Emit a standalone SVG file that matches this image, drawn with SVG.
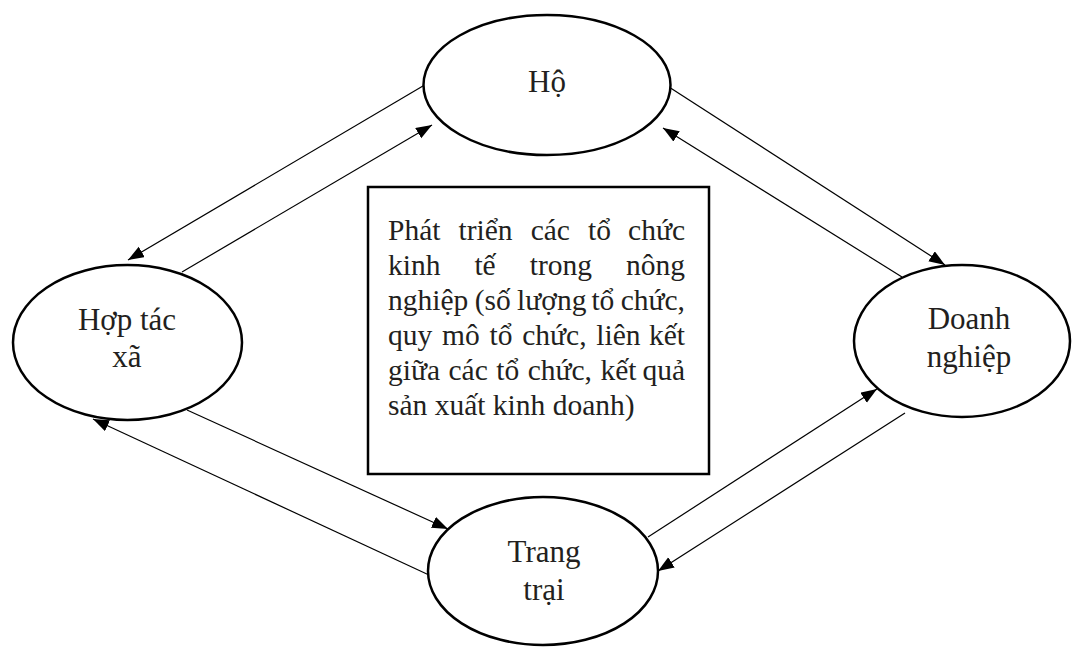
<svg xmlns="http://www.w3.org/2000/svg" width="1075" height="648" viewBox="0 0 1075 648">
<defs>
<style>
.node{fill:#fff;stroke:#000;stroke-width:2.5}
.box{fill:#fff;stroke:#000;stroke-width:2.5}
.lbl{font-family:"Liberation Serif","Times New Roman",serif;font-size:31px;fill:#231f20;text-anchor:middle}
.bt{font-family:"Liberation Serif","Times New Roman",serif;font-size:29.5px;fill:#231f20}
.e{text-anchor:end}
.conn line{stroke:#000;stroke-width:1.2;fill:none}
</style>
<marker id="arr" markerUnits="userSpaceOnUse" markerWidth="18" markerHeight="14" refX="16" refY="6" orient="auto">
<path d="M0,0 L16,6 L0,12 z" fill="#000"/>
</marker>
</defs>
<rect width="1075" height="648" fill="#fff"/>
<g id="connectors" class="conn">
<line x1="428" y1="83" x2="128" y2="260" marker-end="url(#arr)"/>
<line x1="182" y1="272" x2="432" y2="125" marker-end="url(#arr)"/>
<line x1="655" y1="78" x2="945" y2="265" marker-end="url(#arr)"/>
<line x1="902" y1="277" x2="663" y2="128" marker-end="url(#arr)"/>
<line x1="187" y1="410" x2="448" y2="529" marker-end="url(#arr)"/>
<line x1="429" y1="575" x2="93" y2="419" marker-end="url(#arr)"/>
<line x1="648" y1="537" x2="877" y2="389" marker-end="url(#arr)"/>
<line x1="905" y1="413" x2="658" y2="571" marker-end="url(#arr)"/>
</g>
<g id="ho">
<ellipse class="node" cx="547" cy="85" rx="123.5" ry="70"/>
<text class="lbl" x="547" y="92">Hộ</text>
</g>
<g id="hoptacxa">
<ellipse class="node" cx="127.5" cy="342.5" rx="114.5" ry="77.5"/>
<text class="lbl" x="127" y="330">Hợp tác</text>
<text class="lbl" x="127" y="367">xã</text>
</g>
<g id="doanhnghiep">
<ellipse class="node" cx="962" cy="341" rx="108" ry="76"/>
<text class="lbl" x="969" y="329">Doanh</text>
<text class="lbl" x="969" y="367">nghiệp</text>
</g>
<g id="trangtrai">
<ellipse class="node" cx="543" cy="571" rx="115" ry="74"/>
<text class="lbl" x="544" y="562">Trang</text>
<text class="lbl" x="544" y="600">trại</text>
</g>
<g id="center">
<rect class="box" x="368" y="187" width="341" height="287"/>
<text class="bt" x="388" y="240" word-spacing="10.7">Phát triển các tổ</text>
<text class="bt e" x="685" y="240">chức</text>
<text class="bt" x="388" y="275" word-spacing="26.6">kinh tế trong</text>
<text class="bt e" x="685" y="275">nông</text>
<text class="bt" x="388" y="310" word-spacing="-1">nghiệp (số lượng</text>
<text class="bt e" x="685" y="310" word-spacing="-1">tổ chức,</text>
<text class="bt" x="388" y="345" word-spacing="2.4">quy mô tổ chức, liên</text>
<text class="bt e" x="685" y="345">kết</text>
<text class="bt" x="388" y="380" word-spacing="1.1">giữa các tổ chức, kết</text>
<text class="bt e" x="685" y="380">quả</text>
<text class="bt" x="388" y="415">sản xuất kinh doanh)</text>
</g>
</svg>
